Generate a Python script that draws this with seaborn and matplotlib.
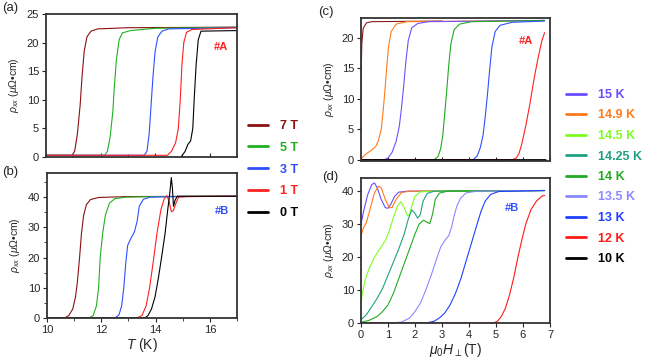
import numpy as np
import pandas as pd
import matplotlib
matplotlib.use("Agg")
import matplotlib.pyplot as plt
from matplotlib import ticker
import seaborn as sns

# %% Data, (x, rho_xx) points along each trace
# (a) sample #A, rho_xx vs T
a_7T = [(10, 0.3), (10.95, 0.3), (11.05, 1), (11.15, 4), (11.25, 9), (11.32, 14), (11.4, 18.5),
        (11.5, 21), (11.65, 22), (11.9, 22.4), (13, 22.6), (17, 22.7)]
a_5T = [(10, 0.3), (12.15, 0.3), (12.25, 1), (12.35, 3.5), (12.45, 8), (12.5, 12), (12.58, 17),
        (12.68, 20.5), (12.8, 21.7), (13.1, 22.1), (14, 22.5), (17, 22.7)]
a_3T = [(10, 0.3), (13.6, 0.3), (13.7, 1), (13.78, 4), (13.85, 9), (13.92, 14), (14.0, 18.5),
        (14.1, 21), (14.25, 22), (14.5, 22.4), (17, 22.6)]
a_1T = [(10, 0.3), (14.45, 0.3), (14.6, 1), (14.75, 2.5), (14.85, 5), (14.92, 10), (14.98, 16),
        (15.05, 20), (15.15, 21.8), (15.35, 22.3), (17, 22.6)]
a_0T = [(14.95, 0), (15.1, 1.0), (15.2, 2.2), (15.3, 2.8), (15.38, 5), (15.43, 10), (15.5, 16),
        (15.58, 20.5), (15.68, 22), (17, 22.1)]

# (b) sample #B, rho_xx vs T
b_7T = [(10, 0), (10.65, 0), (10.8, 0.8), (10.95, 3), (11.05, 7), (11.12, 12), (11.2, 20),
        (11.27, 28), (11.35, 34), (11.45, 37.5), (11.6, 39.2), (11.9, 39.9), (13, 40.2), (17, 40.3)]
b_5T = [(10, 0), (11.55, 0), (11.7, 0.8), (11.82, 4), (11.9, 10), (11.96, 20), (12.05, 28),
        (12.15, 34), (12.3, 38), (12.5, 39.5), (12.9, 40), (14, 40.2), (17, 40.3)]
b_3T = [(10, 0), (12.5, 0), (12.65, 1), (12.75, 4), (12.83, 10), (12.9, 18), (12.97, 24),
        (13.1, 26.5), (13.22, 28.5), (13.32, 32), (13.4, 37), (13.55, 39.3), (13.8, 40),
        (15, 40.2), (17, 40.3)]
b_1T = [(10, 0), (13.3, 0), (13.5, 0.8), (13.65, 4), (13.78, 10), (13.92, 19), (14.05, 28),
        (14.2, 36), (14.32, 39.5), (14.42, 40.5), (14.5, 38.5), (14.58, 35.2), (14.65, 35.5),
        (14.75, 38), (14.85, 40), (15.2, 40.2), (17, 40.3)]
b_0T = [(10, 0), (13.6, 0), (13.72, 0.8), (13.85, 3), (13.98, 7), (14.1, 13), (14.22, 20),
        (14.35, 28), (14.45, 36), (14.52, 41), (14.58, 46.5), (14.62, 43), (14.66, 37),
        (14.72, 39), (14.8, 40.3), (17, 40.3)]

# (c) sample #A, rho_xx vs field
c_darkred = [(0, 10), (0.01, 15), (0.03, 19), (0.08, 21.5), (0.2, 22.4), (0.4, 22.6), (3, 22.7)]
c_orange = [(0, 0.2), (0.2, 1.0), (0.4, 1.6), (0.55, 2.2), (0.65, 3.2), (0.75, 5), (0.82, 8),
            (0.88, 11), (0.95, 15), (1.02, 18.5), (1.12, 21), (1.3, 22.2), (1.7, 22.6), (6.8, 22.8)]
c_purple = [(0, 0), (0.85, 0), (1.0, 0.3), (1.15, 1.2), (1.3, 3), (1.42, 5.5), (1.5, 8.5),
            (1.58, 12), (1.66, 16), (1.75, 19.5), (1.88, 21.6), (2.1, 22.3), (2.5, 22.6), (6.8, 22.8)]
c_green = [(0, 0), (2.7, 0), (2.85, 0.5), (2.95, 1.8), (3.03, 4), (3.1, 7.5), (3.17, 11),
           (3.25, 15.5), (3.33, 19), (3.45, 21.3), (3.65, 22.2), (4.1, 22.6), (6.8, 22.8)]
c_blue = [(0, 0), (4.15, 0), (4.3, 0.6), (4.42, 2), (4.52, 4), (4.6, 7), (4.68, 10.5),
          (4.76, 14.5), (4.85, 18.5), (4.97, 21), (5.15, 22), (5.6, 22.5), (6.8, 22.7)]
c_red = [(0, 0), (5.6, 0), (5.75, 0.3), (5.85, 1), (5.95, 2.5), (6.1, 5.5), (6.25, 9),
         (6.4, 13), (6.55, 16.5), (6.7, 19.5), (6.8, 20.8)]
c_black = [(0, 0), (6.8, 0)]

# (d) sample #B, rho_xx vs field at fixed T
d_15K = [(0, 30), (0.1, 34), (0.25, 39), (0.4, 42), (0.5, 42.5), (0.6, 41), (0.75, 37.5),
         (0.9, 35), (1.0, 34.8), (1.1, 36), (1.25, 38.5), (1.4, 39.7), (1.7, 40), (6.8, 40.2)]
d_149K = [(0, 26.5), (0.1, 29), (0.2, 30.5), (0.35, 35), (0.5, 39.5), (0.65, 41.5), (0.75, 41),
          (0.9, 37.5), (1.05, 35), (1.15, 35), (1.3, 37.5), (1.5, 39.6), (1.8, 40), (6.8, 40.2)]
d_145K = [(0, 6), (0.05, 9), (0.15, 13), (0.3, 16.5), (0.5, 20), (0.7, 22.5), (0.9, 25),
          (1.05, 28), (1.2, 32), (1.35, 35.5), (1.48, 36.8), (1.6, 35), (1.72, 32.5), (1.8, 33),
          (1.9, 36), (2.0, 38.5), (2.2, 39.8), (2.6, 40), (6.8, 40.2)]
d_1425K = [(0, 1), (0.2, 2.5), (0.4, 5), (0.6, 7.5), (0.8, 10.5), (1.0, 14.5), (1.2, 18.5),
           (1.4, 22.5), (1.6, 27), (1.75, 31.5), (1.88, 34.3), (1.98, 33.5), (2.1, 31.8),
           (2.2, 33), (2.3, 37), (2.45, 39.3), (2.7, 40), (6.8, 40.2)]
d_14K = [(0, 0.2), (0.3, 0.8), (0.6, 2), (0.8, 3.5), (1.0, 5.5), (1.2, 9), (1.4, 13.5),
         (1.6, 18), (1.8, 22.5), (2.0, 27), (2.15, 30), (2.32, 31.2), (2.45, 30.5), (2.55, 30.2),
         (2.65, 33), (2.75, 37.5), (2.9, 39.4), (3.2, 40), (6.8, 40.2)]
d_135K = [(0, 0), (1.2, 0), (1.5, 0.3), (1.8, 1.5), (2.0, 3.5), (2.2, 6), (2.4, 10), (2.6, 14.5),
          (2.8, 19.5), (2.95, 23), (3.1, 25), (3.25, 26.5), (3.35, 29), (3.45, 32.5), (3.55, 35.5),
          (3.7, 38), (3.9, 39.5), (4.3, 40), (6.8, 40.2)]
d_13K = [(0, 0), (2.4, 0), (2.7, 0.5), (2.9, 1.5), (3.1, 3), (3.3, 5.5), (3.5, 9), (3.7, 13.5),
         (3.9, 19), (4.1, 24.5), (4.3, 30), (4.45, 34), (4.6, 37), (4.8, 39), (5.1, 39.9), (6.8, 40.2)]
d_12K = [(0, 0), (4.9, 0), (5.05, 0.5), (5.2, 2), (5.35, 4.5), (5.5, 8.5), (5.65, 13.5),
         (5.8, 19.5), (5.95, 25), (6.1, 30), (6.3, 34.5), (6.5, 37), (6.7, 38.5), (6.8, 38.7)]
d_10K = [(0, 0), (6.8, 0)]

field_labels = ["7 T", "5 T", "3 T", "1 T", "0 T"]
field_colors = ["#8b1010", "#22b022", "#2f4fff", "#ff2020", "#000000"]
temp_labels = ["15 K", "14.9 K", "14.5 K", "14.25 K", "14 K", "13.5 K", "13 K", "12 K", "10 K"]
temp_colors = ["#6a4dff", "#ff7a1a", "#7cff20", "#20a080", "#22aa22", "#8a8aff", "#2040ff",
               "#ff1a1a", "#000000"]
c_labels = ["c1", "c2", "c3", "c4", "c5", "c6", "c7"]
c_colors = ["#8b1a1a", "#ff7a1a", "#7050ff", "#22aa22", "#3050ff", "#ff2020", "#000000"]


def to_frame(labels, curves):
    frames = []
    for name, pts in zip(labels, curves):
        arr = np.array(pts, dtype=float)
        frames.append(pd.DataFrame({"x": arr[:, 0], "y": arr[:, 1], "curve": name}))
    return pd.concat(frames, ignore_index=True)


df_a = to_frame(field_labels, [a_7T, a_5T, a_3T, a_1T, a_0T])
df_b = to_frame(field_labels, [b_7T, b_5T, b_3T, b_1T, b_0T])
df_c = to_frame(c_labels, [c_darkred, c_orange, c_purple, c_green, c_blue, c_red, c_black])
df_d = to_frame(temp_labels, [d_15K, d_149K, d_145K, d_1425K, d_14K, d_135K, d_13K, d_12K, d_10K])

# %% Figure
sns.set_style("ticks")
plt.rcParams["font.family"] = ["Liberation Sans", "DejaVu Sans"]
plt.rcParams["mathtext.fontset"] = "custom"
plt.rcParams["mathtext.rm"] = "Liberation Sans"
plt.rcParams["mathtext.it"] = "Liberation Sans:italic"
plt.rcParams["mathtext.bf"] = "Liberation Sans:bold"

fig = plt.figure(figsize=(6.5, 3.62), dpi=100)
W, H = 650, 362


def add_axes(left, top, right, bottom):
    return fig.add_axes([left / W, 1 - bottom / H, (right - left) / W, (bottom - top) / H])


ax_a = add_axes(46, 14, 237, 157)
ax_b = add_axes(47, 173, 237, 318)
ax_c = add_axes(361, 18, 550, 161)
ax_d = add_axes(361, 178, 550, 323)

lw = 0.8
sns.lineplot(data=df_a, x="x", y="y", hue="curve", hue_order=field_labels,
             palette=field_colors, sort=False, estimator=None, lw=lw, legend=False, ax=ax_a)
sns.lineplot(data=df_b, x="x", y="y", hue="curve", hue_order=field_labels,
             palette=field_colors, sort=False, estimator=None, lw=lw, ax=ax_b)
sns.lineplot(data=df_c, x="x", y="y", hue="curve", hue_order=c_labels,
             palette=c_colors, sort=False, estimator=None, lw=lw, legend=False, ax=ax_c)
sns.lineplot(data=df_d, x="x", y="y", hue="curve", hue_order=temp_labels,
             palette=temp_colors, sort=False, estimator=None, lw=lw, ax=ax_d)
ax_c.lines[-1].set_linewidth(2)
ax_d.lines[-1].set_linewidth(1.6)

ylabel = r"$\rho_{xx}$ ($\mu\Omega$•cm)"
for ax in (ax_a, ax_b, ax_c, ax_d):
    for s in ax.spines.values():
        s.set_linewidth(1.3)
        s.set_color("#333333")
    ax.tick_params(labelsize=8, length=3, width=0.8, direction="out", pad=2)
    ax.tick_params(which="minor", length=2, width=0.6, direction="out")
    ax.set_ylabel(ylabel, fontsize=7.5)
    ax.yaxis.set_label_coords(-0.13, 0.5)
    ax.set_xlabel("")

ax_a.set_xlim(10, 17)
ax_a.set_ylim(0, 25)
ax_a.xaxis.set_major_locator(ticker.MultipleLocator(2))
ax_a.xaxis.set_minor_locator(ticker.MultipleLocator(1))
ax_a.tick_params(axis="x", labelbottom=False, direction="in")
ax_a.tick_params(axis="x", which="minor", direction="in")
ax_a.yaxis.set_major_locator(ticker.MultipleLocator(5))

ax_b.set_xlim(10, 17)
ax_b.set_ylim(0, 48)
ax_b.xaxis.set_major_locator(ticker.MultipleLocator(2))
ax_b.xaxis.set_minor_locator(ticker.MultipleLocator(1))
ax_b.yaxis.set_major_locator(ticker.MultipleLocator(10))
ax_b.yaxis.set_minor_locator(ticker.MultipleLocator(5))
ax_b.set_xlabel(r"$T$ (K)", fontsize=10, labelpad=1)

ax_c.set_xlim(0, 7)
ax_c.set_ylim(-0.2, 23.2)
ax_c.xaxis.set_major_locator(ticker.MultipleLocator(1))
ax_c.tick_params(axis="x", labelbottom=False, direction="in")
ax_c.yaxis.set_major_locator(ticker.MultipleLocator(5))

ax_d.set_xlim(0, 7)
ax_d.set_ylim(0, 44)
ax_d.xaxis.set_major_locator(ticker.MultipleLocator(1))
ax_d.yaxis.set_major_locator(ticker.MultipleLocator(10))
ax_d.set_xlabel(r"$\mu_0H_\perp$(T)", fontsize=10, labelpad=1)

# sample tags
ax_a.text(0.915, 0.77, "#A", transform=ax_a.transAxes, color="#ff2020", fontsize=8,
          fontweight="bold", ha="center", va="center")
ax_b.text(0.92, 0.74, "#B", transform=ax_b.transAxes, color="#3050ff", fontsize=8,
          fontweight="bold", ha="center", va="center")
ax_c.text(0.875, 0.84, "#A", transform=ax_c.transAxes, color="#ff2020", fontsize=8,
          fontweight="bold", ha="center", va="center")
ax_d.text(0.80, 0.79, "#B", transform=ax_d.transAxes, color="#3050ff", fontsize=8,
          fontweight="bold", ha="center", va="center")

# panel letters
for lab, x, y in [("(a)", 2, 8), ("(b)", 2, 172), ("(c)", 318, 12), ("(d)", 322, 177)]:
    fig.text(x / W, 1 - y / H, lab, fontsize=9.5, ha="left", va="center")

# legends
leg_kw = dict(frameon=False, title=None, labelcolor="linecolor", handlelength=1.6,
              borderpad=0, borderaxespad=0, handletextpad=1.0,
              prop={"weight": "bold", "size": 9}, bbox_transform=fig.transFigure)
sns.move_legend(ax_b, "upper left", bbox_to_anchor=(248 / W, 1 - 120 / H),
                labelspacing=0.78, **leg_kw)
sns.move_legend(ax_d, "upper left", bbox_to_anchor=(566 / W, 1 - 89 / H),
                labelspacing=0.68, **leg_kw)
for ax in (ax_b, ax_d):
    for ln in ax.get_legend().get_lines():
        ln.set_linewidth(2)

fig.savefig("out.png", dpi=100)
